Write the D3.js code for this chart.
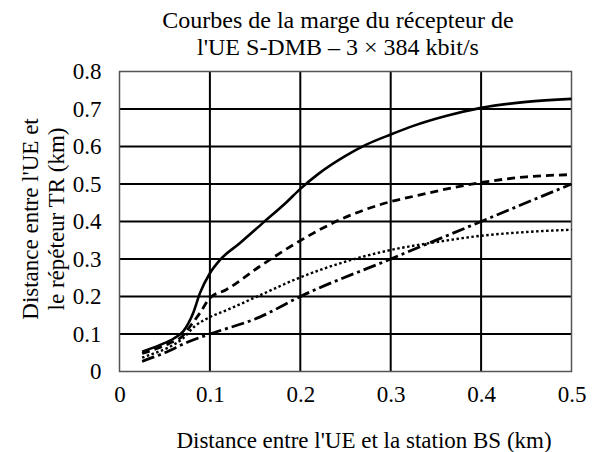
<!DOCTYPE html>
<html>
<head>
<meta charset="utf-8">
<script src="https://cdn.jsdelivr.net/npm/d3@7"></script>
<style>
  html, body { margin: 0; padding: 0; background: #fff; }
  svg text { font-family: 'Liberation Serif', 'Times New Roman', serif !important; fill: #000; }
</style>
</head>
<body>
<svg id="chart" width="596" height="452"></svg>
<script>
// Distance UE–BS (km) against distance UE–TR (km), four receiver-margin curves
const curveSolid = [
  [0.025, 0.053], [0.045, 0.071], [0.06, 0.088], [0.0705, 0.107], [0.0815, 0.156],
  [0.089, 0.209], [0.1, 0.262], [0.111, 0.297], [0.133, 0.342], [0.159, 0.397],
  [0.185, 0.452], [0.2, 0.487], [0.22, 0.527], [0.25, 0.575], [0.273, 0.605],
  [0.3, 0.632], [0.325, 0.655], [0.362, 0.682], [0.4, 0.703], [0.45, 0.719],
  [0.5, 0.727]
];
const curveDashed = [
  [0.025, 0.048], [0.04, 0.060], [0.055, 0.075], [0.07, 0.095], [0.078, 0.12],
  [0.089, 0.156], [0.1, 0.196], [0.118, 0.218], [0.155, 0.28], [0.2, 0.349],
  [0.236, 0.396], [0.3, 0.453], [0.325, 0.467], [0.4, 0.504], [0.45, 0.519],
  [0.5, 0.525]
];
const curveDotted = [
  [0.025, 0.037], [0.04, 0.05], [0.055, 0.065], [0.07, 0.088], [0.083, 0.12],
  [0.1, 0.145], [0.118, 0.163], [0.155, 0.203], [0.2, 0.251], [0.25, 0.293],
  [0.3, 0.324], [0.35, 0.345], [0.4, 0.362], [0.45, 0.372], [0.5, 0.378]
];
const curveDashDot = [
  [0.025, 0.027], [0.05, 0.05], [0.075, 0.078], [0.1, 0.1], [0.155, 0.145],
  [0.2, 0.2], [0.3, 0.30], [0.4, 0.40], [0.5, 0.50]
];
const xTicks = [0, 0.1, 0.2, 0.3, 0.4, 0.5];
const yTicks = [0, 0.1, 0.2, 0.3, 0.4, 0.5, 0.6, 0.7, 0.8];
const titleLines = ["Courbes de la marge du récepteur de", "l'UE S-DMB – 3 × 384 kbit/s"];
const xTitle = "Distance entre l'UE et la station BS (km)";
const yTitleLines = ["Distance entre l'UE et", "le répéteur TR (km)"];

const FONT = "'Liberation Serif', 'Times New Roman', serif";
const FS = 23;

const svg = d3.select("#chart").attr("font-family", FONT);
const m = { left: 119.5, right: 571.5, top: 71.5, bottom: 371.5 };

const x = d3.scaleLinear().domain([0, 0.5]).range([m.left, m.right]);
const y = d3.scaleLinear().domain([0, 0.8]).range([m.bottom, m.top]);

// grid
const grid = svg.append("g");
grid.selectAll("line.v").data(xTicks.slice(1, -1)).join("line")
  .attr("x1", d => x(d)).attr("x2", d => x(d))
  .attr("y1", m.top).attr("y2", m.bottom)
  .attr("stroke", "#000").attr("stroke-width", 2);
grid.selectAll("line.h").data(yTicks.slice(1, -1)).join("line")
  .attr("x1", m.left).attr("x2", m.right)
  .attr("y1", d => y(d)).attr("y2", d => y(d))
  .attr("stroke", "#000").attr("stroke-width", 2);

// frame
svg.append("rect")
  .attr("x", m.left).attr("y", m.top)
  .attr("width", m.right - m.left).attr("height", m.bottom - m.top)
  .attr("fill", "none").attr("stroke", "#555").attr("stroke-width", 1.5);

// axes with tick labels only
const fmt = d => d === 0 ? "0" : d3.format(".1f")(d);
const xAxis = svg.append("g")
  .attr("transform", `translate(0,${m.bottom})`)
  .call(d3.axisBottom(x).tickValues(xTicks).tickSize(0).tickPadding(14).tickFormat(fmt));
const yAxis = svg.append("g")
  .attr("transform", `translate(${m.left},0)`)
  .call(d3.axisLeft(y).tickValues(yTicks).tickSize(0).tickPadding(18).tickFormat(fmt));
[xAxis, yAxis].forEach(g => {
  g.attr("font-family", FONT).attr("font-size", FS);
  g.select(".domain").remove();
  g.selectAll("text").style("font-family", FONT).style("font-size", FS + "px");
});

// curves
const line = d3.line().x(d => x(d[0])).y(d => y(d[1])).curve(d3.curveMonotoneX);
const series = [
  { data: curveSolid, dash: null, w: 2.6 },
  { data: curveDashed, dash: "8,5", w: 2.8 },
  { data: curveDotted, dash: "2.5,2.5", w: 2.4 },
  { data: curveDashDot, dash: "13,4,3,4", w: 2.8 }
];
svg.append("g").selectAll("path").data(series).join("path")
  .attr("d", s => line(s.data))
  .attr("fill", "none").attr("stroke", "#000")
  .attr("stroke-width", s => s.w)
  .attr("stroke-dasharray", s => s.dash);

// titles
svg.append("text").attr("text-anchor", "middle")
  .style("font-size", "24px")
  .selectAll("tspan").data(titleLines).join("tspan")
  .attr("x", 338).attr("y", (d, i) => 28 + i * 27).text(d => d);

svg.append("text").attr("x", 364).attr("y", 448).attr("text-anchor", "middle")
  .style("font-size", FS + "px").text(xTitle);

svg.append("g").attr("transform", "translate(0,219) rotate(-90)")
  .append("text").attr("text-anchor", "middle").style("font-size", FS + "px")
  .selectAll("tspan").data(yTitleLines).join("tspan")
  .attr("x", 0).attr("y", (d, i) => 38 + i * 26).text(d => d);
</script>
</body>
</html>
